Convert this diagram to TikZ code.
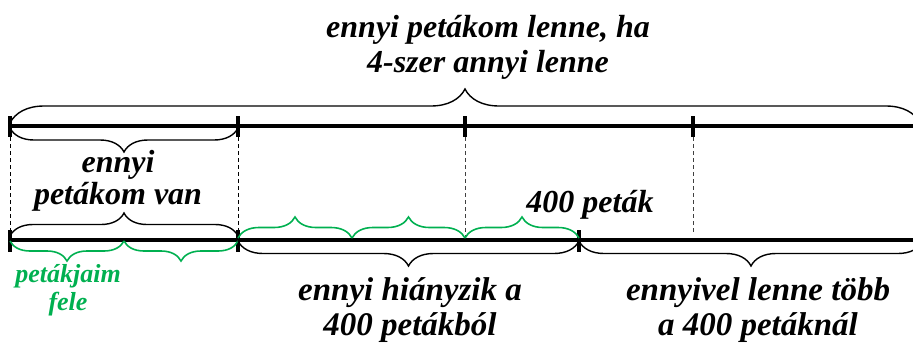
\documentclass[tikz,border=0pt]{standalone}
\usepackage{fontspec}
\setmainfont{Liberation Serif}[BoldItalicFont={Liberation Serif Bold Italic}]
\usetikzlibrary{decorations.pathreplacing}
\definecolor{grn}{RGB}{0,176,80}
\begin{document}
\begin{tikzpicture}[x=1pt,y=-1pt,
  bar/.style={line width=3.5pt},
  tickmark/.style={line width=4pt},
  guide/.style={line width=1pt, dash pattern=on 4pt off 3pt},
  brc/.style={decorate, decoration={brace, amplitude=#1pt}, line width=1.4pt},
  gbrc/.style={decorate, decoration={brace, amplitude=#1pt}, line width=1.6pt, draw=grn},
  lbl/.style={inner sep=0pt, align=center, font=\fontsize{32}{35}\selectfont\bfseries\itshape},
]
\useasboundingbox (0,0) rectangle (913,343);
% named points
\coordinate (t0) at (10,126);
\coordinate (t1) at (238,126);
\coordinate (t2) at (465,126);
\coordinate (t3) at (693,126);
\coordinate (tE) at (913,126);
\coordinate (b0) at (10,240);
\coordinate (bq) at (124,240);
\coordinate (b1) at (238,240);
\coordinate (bm) at (352,240);
\coordinate (b2) at (465,240);
\coordinate (b3) at (579,240);
\coordinate (b4) at (693,240);
\coordinate (bE) at (913,240);
% main bars
\draw[bar] (t0) -- (tE);
\draw[bar] (b0) -- (bE);
% guides
\draw[guide] ([yshift=-11pt]t0) -- ([yshift=10pt]b0);
\draw[guide] ([yshift=-11pt]t1) -- ([yshift=10pt]b1);
\draw[guide, black!75] ([yshift=-11pt]t2) -- ([yshift=2pt]b2);
\draw[guide, black!75] ([yshift=-11pt]t3) -- ([yshift=8pt]b4);
% ticks
\foreach \p in {t0,t1,t2,t3}
  \draw[tickmark] ([yshift=10pt]\p) -- ([yshift=-11pt]\p);
\foreach \p in {b0,b1,b3}
  \draw[tickmark] ([yshift=10pt]\p) -- ([yshift=-12pt]\p);
% braces on top line
\draw[brc=34] ([yshift=3pt]t0) -- ([xshift=7pt,yshift=3pt]tE);
\draw[brc=24] ([yshift=-2pt]t1) -- ([yshift=-2pt]t0);
% braces on bottom line
\draw[brc=23] ([yshift=4pt]b0) -- ([yshift=4pt]b1);
\draw[gbrc=21] ([yshift=2pt]b1) -- ([yshift=2pt]bm);
\draw[gbrc=21] ([yshift=2pt]bm) -- ([yshift=2pt]b2);
\draw[gbrc=21] ([yshift=2pt]b2) -- ([yshift=2pt]b3);
\draw[gbrc=20] ([yshift=-1pt]bq) -- ([yshift=-1pt]b0);
\draw[gbrc=20] ([yshift=-1pt]b1) -- ([yshift=-1pt]bq);
\draw[brc=25] ([yshift=-1pt]b3) -- ([yshift=-1pt]b1);
\draw[brc=25] ([xshift=10pt,yshift=-1pt]bE) -- ([yshift=-1pt]b3);
% labels
\node[lbl] (whole) at (488,47.5) {\strut ennyi petákom lenne, ha\\\strut 4-szer annyi lenne};
\node[lbl, font=\fontsize{32}{30}\selectfont\bfseries\itshape] (have) at (118,182) {\strut ennyi\\\strut petákom van};
\node[lbl, anchor=base] (four) at (590,212) {400 peták};
\node[lbl, text=grn, font=\fontsize{26}{28}\selectfont\bfseries\itshape] (half) at (68,290.4) {\strut petákjaim\\\strut fele};
\node[lbl, font=\fontsize{33}{35}\selectfont\bfseries\itshape] (miss) at (410,311) {\strut ennyi hiányzik a\\\strut 400 petákból};
\node[lbl, font=\fontsize{33}{35}\selectfont\bfseries\itshape] (more) at (758,311) {\strut ennyivel lenne több\\\strut a 400 petáknál};
\end{tikzpicture}
\end{document}
